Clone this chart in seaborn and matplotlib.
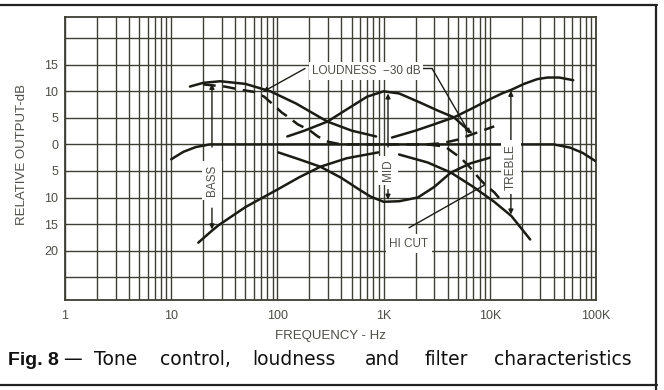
import numpy as np
import pandas as pd
import matplotlib
matplotlib.use("Agg")
import matplotlib.pyplot as plt
from matplotlib.lines import Line2D
from matplotlib.ticker import LogLocator, NullFormatter, FixedLocator
import seaborn as sns

# ---------------- data (frequency in Hz, relative output in dB) ----------------
bass_boost_f = [15, 20, 29, 50, 86, 150, 296, 500, 850]
bass_boost_db = [10.9, 11.6, 11.9, 11.4, 10.0, 7.7, 4.3, 2.6, 1.5]

bass_cut_f = [18, 24, 28, 50, 100, 160, 254, 450, 890]
bass_cut_db = [-18.5, -16.3, -15.2, -11.8, -8.5, -6.2, -4.2, -2.6, -1.5]

mid_boost_f = [124, 180, 296, 450, 700, 1000, 1400, 2200, 3300, 4600, 6600]
mid_boost_db = [1.5, 2.6, 4.3, 6.6, 9.0, 10.0, 9.6, 7.9, 6.3, 5.1, 2.3]

mid_cut_f = [102, 160, 254, 400, 600, 750, 1000, 1400, 2100, 3000, 4300, 6500, 10000]
mid_cut_db = [-1.5, -2.8, -4.2, -6.3, -8.6, -9.8, -10.8, -10.7, -10.0, -8.0, -5.3, -3.6, -2.5]

treble_boost_f = [1200, 2000, 3000, 4600, 7000, 10000, 13000, 16000, 21000, 28000, 35000, 45000, 61000]
treble_boost_db = [1.3, 2.6, 3.8, 5.1, 6.9, 8.5, 9.6, 10.3, 11.4, 12.3, 12.6, 12.6, 12.1]

treble_cut_f = [1400, 2600, 4300, 7000, 11000, 16000, 24000]
treble_cut_db = [-1.9, -3.4, -5.3, -8.0, -10.8, -13.5, -17.9]

flat_f = [10, 13, 17, 23, 100, 1000, 10000, 40000, 57000, 75000, 100000]
flat_db = [-2.8, -1.4, -0.5, 0.0, 0.0, 0.0, 0.0, 0.0, -0.6, -1.6, -3.2]

loudness_f = [20, 32, 45, 60, 75, 95, 110, 130, 155, 200, 240, 300, 400,
              1000, 2500, 3500, 5000, 6600, 8500, 11000]
loudness_db = [11.3, 10.9, 10.3, 9.9, 9.0, 7.2, 6.0, 5.0, 3.8, 2.7, 1.5, 0.5, 0.0,
               0.0, 0.0, 0.2, 0.9, 1.8, 2.6, 3.4]

hicut_f = [2600, 3800, 4500, 5300, 6500, 8100, 9400, 11000, 12600]
hicut_db = [0.0, -0.4, -1.5, -2.5, -4.3, -6.6, -7.9, -9.0, -10.4]

x_ticks = [1, 10, 100, 1000, 10000, 100000]
x_tick_labels = ["1", "10", "100", "1K", "10K", "100K"]
y_ticks = [15, 10, 5, 0, -5, -10, -15, -20]
y_tick_labels = ["15", "10", "5", "0", "5", "10", "15", "20"]

# ---------------- style ----------------
sns.set_theme(style="white")
plt.rcParams['font.family'] = ['Liberation Sans', 'DejaVu Sans']

INK = "#1c1c16"
GRID = "#3e3e34"
LABEL = "#4e4e48"

W, H = 664, 390
fig = plt.figure(figsize=(W / 100, H / 100), dpi=100, facecolor="white")
L, R, T, B = 65, 596, 17, 300
ax = fig.add_axes([L / W, 1 - B / H, (R - L) / W, (B - T) / H])
ax.set_facecolor("white")

ax.set_xscale("log")
ax.set_xlim(1, 1e5)
ax.set_ylim(-29.3, 24.0)

ax.xaxis.set_major_locator(FixedLocator(x_ticks))
ax.set_xticklabels(x_tick_labels)
ax.xaxis.set_minor_locator(LogLocator(base=10, subs=np.arange(2, 10)))
ax.xaxis.set_minor_formatter(NullFormatter())
ax.set_yticks(y_ticks)
ax.set_yticklabels(y_tick_labels)
ax.yaxis.set_minor_locator(FixedLocator([20, -25]))

ax.grid(True, which="both", color=GRID, lw=1.0)
ax.tick_params(which="both", length=0)
ax.tick_params(axis="x", pad=7, labelsize=9, labelcolor=LABEL)
ax.tick_params(axis="y", pad=5, labelsize=9, labelcolor=LABEL)
for s in ax.spines.values():
    s.set_color(GRID)
    s.set_linewidth(1.3)

# ---------------- curves ----------------
solid = [(bass_boost_f, bass_boost_db), (bass_cut_f, bass_cut_db),
         (mid_boost_f, mid_boost_db), (mid_cut_f, mid_cut_db),
         (treble_boost_f, treble_boost_db), (treble_cut_f, treble_cut_db),
         (flat_f, flat_db)]
for f, d in solid:
    sns.lineplot(x=f, y=d, ax=ax, color=INK, lw=1.8, sort=False, zorder=3)

for f, d in [(loudness_f, loudness_db), (hicut_f, hicut_db)]:
    sns.lineplot(x=f, y=d, ax=ax, color=INK, lw=1.8, sort=False, zorder=3,
                 linestyle=(0, (5, 3)))

ax.set_xlabel("")
ax.set_ylabel("")

# ---------------- annotations ----------------
box = dict(boxstyle="square,pad=0.35", fc="white", ec="none")
lab_kw = dict(fontsize=8.5, color=LABEL, zorder=6)
arrow = dict(arrowstyle="-|>", color=INK, lw=1.0, mutation_scale=7, shrinkA=0, shrinkB=0)
line = dict(arrowstyle="-", color=INK, lw=1.0, shrinkA=0, shrinkB=0)


def vlabel(text, f, y, top_from, top_to, bot_from, bot_to):
    ax.annotate("", xy=(f, top_to), xytext=(f, top_from), arrowprops=arrow, zorder=5)
    ax.annotate("", xy=(f, bot_to), xytext=(f, bot_from), arrowprops=arrow, zorder=5)
    ax.text(f, y, text, rotation=90, ha="center", va="center", bbox=box, **lab_kw)


vlabel("BASS", 24.2, -6.8, -0.5, 11.4, -12.0, -16.0)
vlabel("MID", 1100, -4.9, -0.5, 9.6, -8.5, -10.4)
vlabel("TREBLE", 15800, -4.3, 0.5, 10.1, -9.0, -13.2)

# LOUDNESS leaders
ax.annotate("", xy=(73, 9.9), xytext=(182, 14.3), arrowprops=arrow, zorder=5)
ax.annotate("", xy=(2860, 14.3), xytext=(2300, 14.3), arrowprops=line, zorder=5)
ax.annotate("", xy=(6500, 2.0), xytext=(2860, 14.3), arrowprops=arrow, zorder=5)
ax.text(683, 13.8, "LOUDNESS  \u221230 dB", ha="center", va="center",
        bbox=dict(boxstyle="square,pad=0.25", fc="white", ec="none"), **lab_kw)

# HI CUT leader
ax.annotate("", xy=(9000, -7.6), xytext=(1734, -15.7), arrowprops=line, zorder=5)
ax.text(1734, -18.7, "HI CUT", ha="center", va="center",
        bbox=dict(boxstyle="square,pad=0.3", fc="white", ec="none"), **lab_kw)

# axis titles
fig.text(22 / W, 1 - 155 / H, "RELATIVE OUTPUT-dB", rotation=90, ha="center",
         va="center", fontsize=9.5, color=LABEL)
fig.text(330 / W, 1 - 336 / H, "FREQUENCY - Hz", ha="center", va="center",
         fontsize=9.5, color=LABEL)

# caption
cap_y = 1 - 365 / H
fig.text(8 / W, cap_y, "Fig. 8", fontsize=14, fontweight="bold",
         family=['Liberation Sans', 'DejaVu Sans'],
         va="baseline", ha="left", color="#111111")
words = [("\u2014", 63), ("Tone", 94), ("control,", 160), ("loudness", 252), ("and", 365),
         ("filter", 425), ("characteristics", 494)]
for wtxt, xp in words:
    fig.text(xp / W, cap_y, wtxt, fontsize=13.5, family=['DejaVu Sans'], va="baseline",
             ha="left", color="#111111")

# frame of the figure panel
for (x0, y0, x1, y1) in [(0, 5, 657, 5), (656, 5, 656, 390), (0, 385, 657, 385)]:
    fig.add_artist(Line2D([x0 / W, x1 / W], [1 - y0 / H, 1 - y1 / H],
                          transform=fig.transFigure, color="#222222", lw=1.6))

fig.savefig("out.png", dpi=100, facecolor="white")
